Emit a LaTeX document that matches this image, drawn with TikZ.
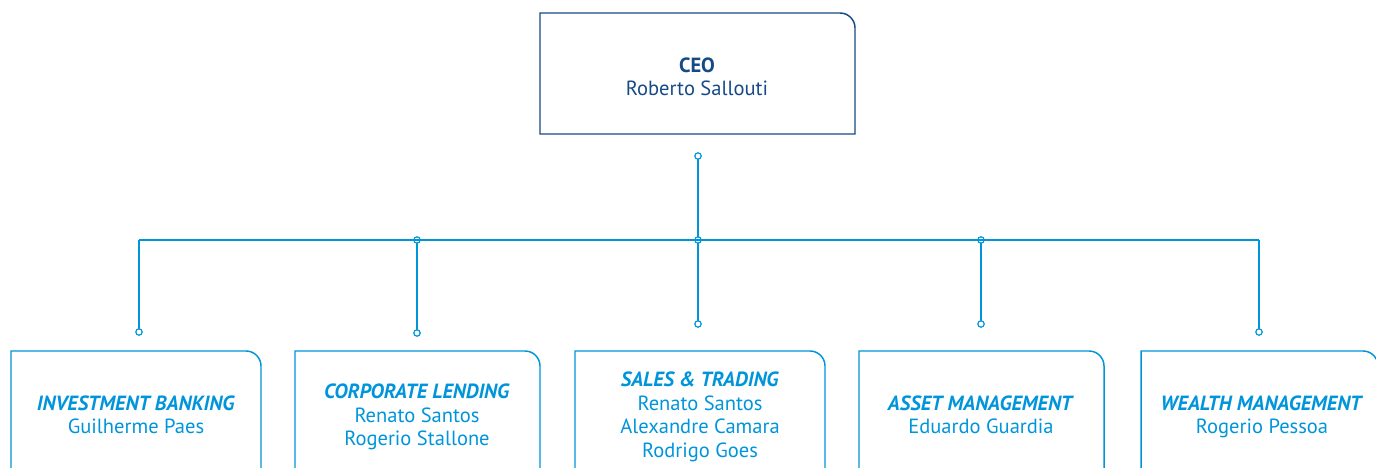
\documentclass[tikz,border=0pt]{standalone}
\usepackage{fontspec}
\setmainfont{PT Sans}
\definecolor{darkblue}{RGB}{22,74,134}
\definecolor{lblue}{RGB}{0,149,218}
\tikzset{
  boxline/.style={line width=1.1pt},
  conn/.style={lblue, line width=1.1pt},
  dot/.style={lblue, line width=0.9pt, fill=white},
  ceotext/.style={darkblue, align=center, font=\fontsize{15.4}{17.6}\selectfont, inner sep=0pt},
  divtext/.style={lblue, align=center, font=\fontsize{15.4}{17.6}\selectfont, inner sep=0pt},
}
\newcommand\divbox[2]{\draw[boxline, lblue] (#1,480) -- (#1,351) -- ({#2-15},351) arc[start angle=-90,end angle=0,radius=15] -- (#2,480);}
\newcommand\hd[1]{\strut\textbf{\textit{#1}}}
\newcommand\tl[1]{\strut #1}
\begin{document}
\begin{tikzpicture}[x=0.75pt,y=-0.75pt]
\useasboundingbox (0,0) rectangle (1376,467);
\clip (0,0) rectangle (1376,467);
% CEO box
\draw[boxline, darkblue] (540,134) -- (540,13) -- (840,13) arc[start angle=-90,end angle=0,radius=15] -- (855,134) -- cycle;
\node[ceotext] (ceo) at (697,79.5) {\tl{\textbf{CEO}}\\\tl{Roberto Sallouti}};
% division boxes
\divbox{11}{261}
\divbox{295}{540}
\divbox{575}{825}
\divbox{859}{1104}
\divbox{1141}{1378}
\node[divtext] (ib) at (136,417.5) {\hd{INVESTMENT BANKING}\\\tl{Guilherme Paes}};
\node[divtext] (cl) at (417,417.5) {\hd{CORPORATE LENDING}\\\tl{Renato Santos}\\\tl{Rogerio Stallone}};
\node[divtext] (st) at (700,417.5) {\hd{SALES \& TRADING}\\\tl{Renato Santos}\\\tl{Alexandre Camara}\\\tl{Rodrigo Goes}};
\node[divtext] (am) at (981,417.5) {\hd{ASSET MANAGEMENT}\\\tl{Eduardo Guardia}};
\node[divtext] (wm) at (1262,417.5) {\hd{WEALTH MANAGEMENT}\\\tl{Rogerio Pessoa}};
% connector points
\coordinate (top) at (698,156);
\coordinate (jc) at (698,240);
\coordinate (jl) at (417,240);
\coordinate (jr) at (981,240);
\coordinate (cl1) at (139,240);
\coordinate (cr1) at (1259,240);
\coordinate (e1) at (139,332);
\coordinate (e2) at (417,333);
\coordinate (e3) at (698,324);
\coordinate (e4) at (981,324);
\coordinate (e5) at (1259,332);
% vertical lines
\draw[conn] (top) -- (jc) -- (e3);
\draw[conn] (jl) -- (e2);
\draw[conn] (jr) -- (e4);
\draw[conn] (cl1) -- (e1);
\draw[conn] (cr1) -- (e5);
% dots
\foreach \p in {top,jc,jl,jr,e1,e2,e3,e4,e5}{\draw[dot] (\p) circle[radius=2.4pt];}
% horizontal bus
\draw[conn] (cl1) -- (jl) -- (jc) -- (jr) -- (cr1);
\end{tikzpicture}
\end{document}
